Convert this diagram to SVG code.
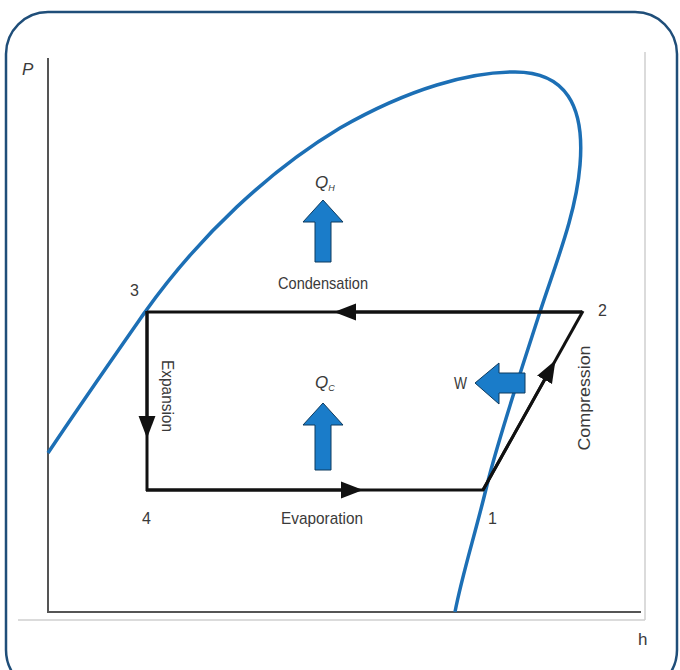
<svg xmlns="http://www.w3.org/2000/svg" width="680" height="670" viewBox="0 0 680 670">
<defs>
<style>
.lbl{font-family:"Liberation Sans",Arial,sans-serif;fill:#3a3a3a;font-size:17px}
.num{font-family:"Liberation Sans",Arial,sans-serif;fill:#3a3a3a;font-size:16px}
.cyc{fill:none;stroke:#111;stroke-width:3}
.barr{fill:#1a7cc9;stroke:#0d3a5e;stroke-width:1}
</style>
<marker id="ah" viewBox="0 0 10 10" refX="5" refY="5" markerWidth="7.5" markerHeight="7.5" markerUnits="strokeWidth" orient="auto">
<path d="M0,1.2 L10,5 L0,8.8 Z" fill="#111"/>
</marker>
</defs>
<rect x="0" y="0" width="680" height="670" fill="#fff"/>
<rect id="frame" x="6" y="12" width="671" height="680" rx="42" ry="42" fill="none" stroke="#1f4e79" stroke-width="2.5"/>
<g id="axes">
<line x1="18" y1="620" x2="645" y2="620" stroke="#cfcfcf" stroke-width="1.5"/>
<line x1="645" y1="52" x2="645" y2="620" stroke="#cfcfcf" stroke-width="1.5"/>
<line x1="48" y1="58" x2="48" y2="613" stroke="#555" stroke-width="2"/>
<line x1="47" y1="612" x2="641" y2="612" stroke="#555" stroke-width="2"/>
<text class="lbl" x="22" y="75" font-style="italic" font-size="15">P</text>
<text class="lbl" x="638" y="645" font-size="18">h</text>
</g>
<g id="saturation-curve">
<path d="M48,453 C80,405 115,355 145,312 C200,235 270,170 340,128 C410,88 470,72 515,72 C565,72 585,105 580,165 C576,215 555,265 538,318 C518,380 498,440 487,485 C475,535 462,575 455,612" fill="none" stroke="#1c6fb5" stroke-width="3.5"/>
</g>
<g id="connectors">
<line class="cyc" x1="582" y1="312" x2="147" y2="312"/>
<path class="cyc" d="M582,312 L345,312" marker-end="url(#ah)"/>
<line class="cyc" x1="147" y1="311" x2="147" y2="491"/>
<path class="cyc" d="M147,311 L147,427" marker-end="url(#ah)"/>
<line class="cyc" x1="146" y1="490" x2="484" y2="490"/>
<path class="cyc" d="M146,490 L352,490" marker-end="url(#ah)"/>
<line class="cyc" x1="483" y1="490" x2="583" y2="311"/>
<path class="cyc" d="M483,490 L550,370" marker-end="url(#ah)"/>
</g>
<g id="state-3"><text class="num" x="130" y="296">3</text></g>
<g id="state-2"><text class="num" x="598" y="316">2</text></g>
<g id="state-1"><text class="num" x="488" y="524">1</text></g>
<g id="state-4"><text class="num" x="142" y="524">4</text></g>
<g id="condensation">
<text class="lbl" x="323" y="289" text-anchor="middle" textLength="90" lengthAdjust="spacingAndGlyphs">Condensation</text>
</g>
<g id="evaporation">
<text class="lbl" x="322" y="524" text-anchor="middle" textLength="82" lengthAdjust="spacingAndGlyphs">Evaporation</text>
</g>
<g id="expansion">
<text class="lbl" transform="translate(162,396) rotate(90)" text-anchor="middle" textLength="72" lengthAdjust="spacingAndGlyphs">Expansion</text>
</g>
<g id="compression">
<text class="lbl" transform="translate(590,398) rotate(-90)" text-anchor="middle" textLength="105" lengthAdjust="spacingAndGlyphs">Compression</text>
</g>
<g id="qh">
<text class="lbl" x="315" y="188" font-style="italic" font-size="14">Q<tspan font-size="9" dy="3">H</tspan></text>
<path class="barr" d="M323,200 L343,222 L331,222 L331,262 L315,262 L315,222 L303,222 Z"/>
</g>
<g id="qc">
<text class="lbl" x="315" y="388" font-style="italic" font-size="14">Q<tspan font-size="9" dy="3">C</tspan></text>
<path class="barr" d="M323,403 L343,425 L331,425 L331,470 L315,470 L315,425 L303,425 Z"/>
</g>
<g id="w">
<text class="lbl" x="454" y="389" font-size="15" textLength="13" lengthAdjust="spacingAndGlyphs">W</text>
<path class="barr" d="M475,383 L499,363 L499,373 L525,373 L525,393 L499,393 L499,404 Z"/>
</g>
</svg>
